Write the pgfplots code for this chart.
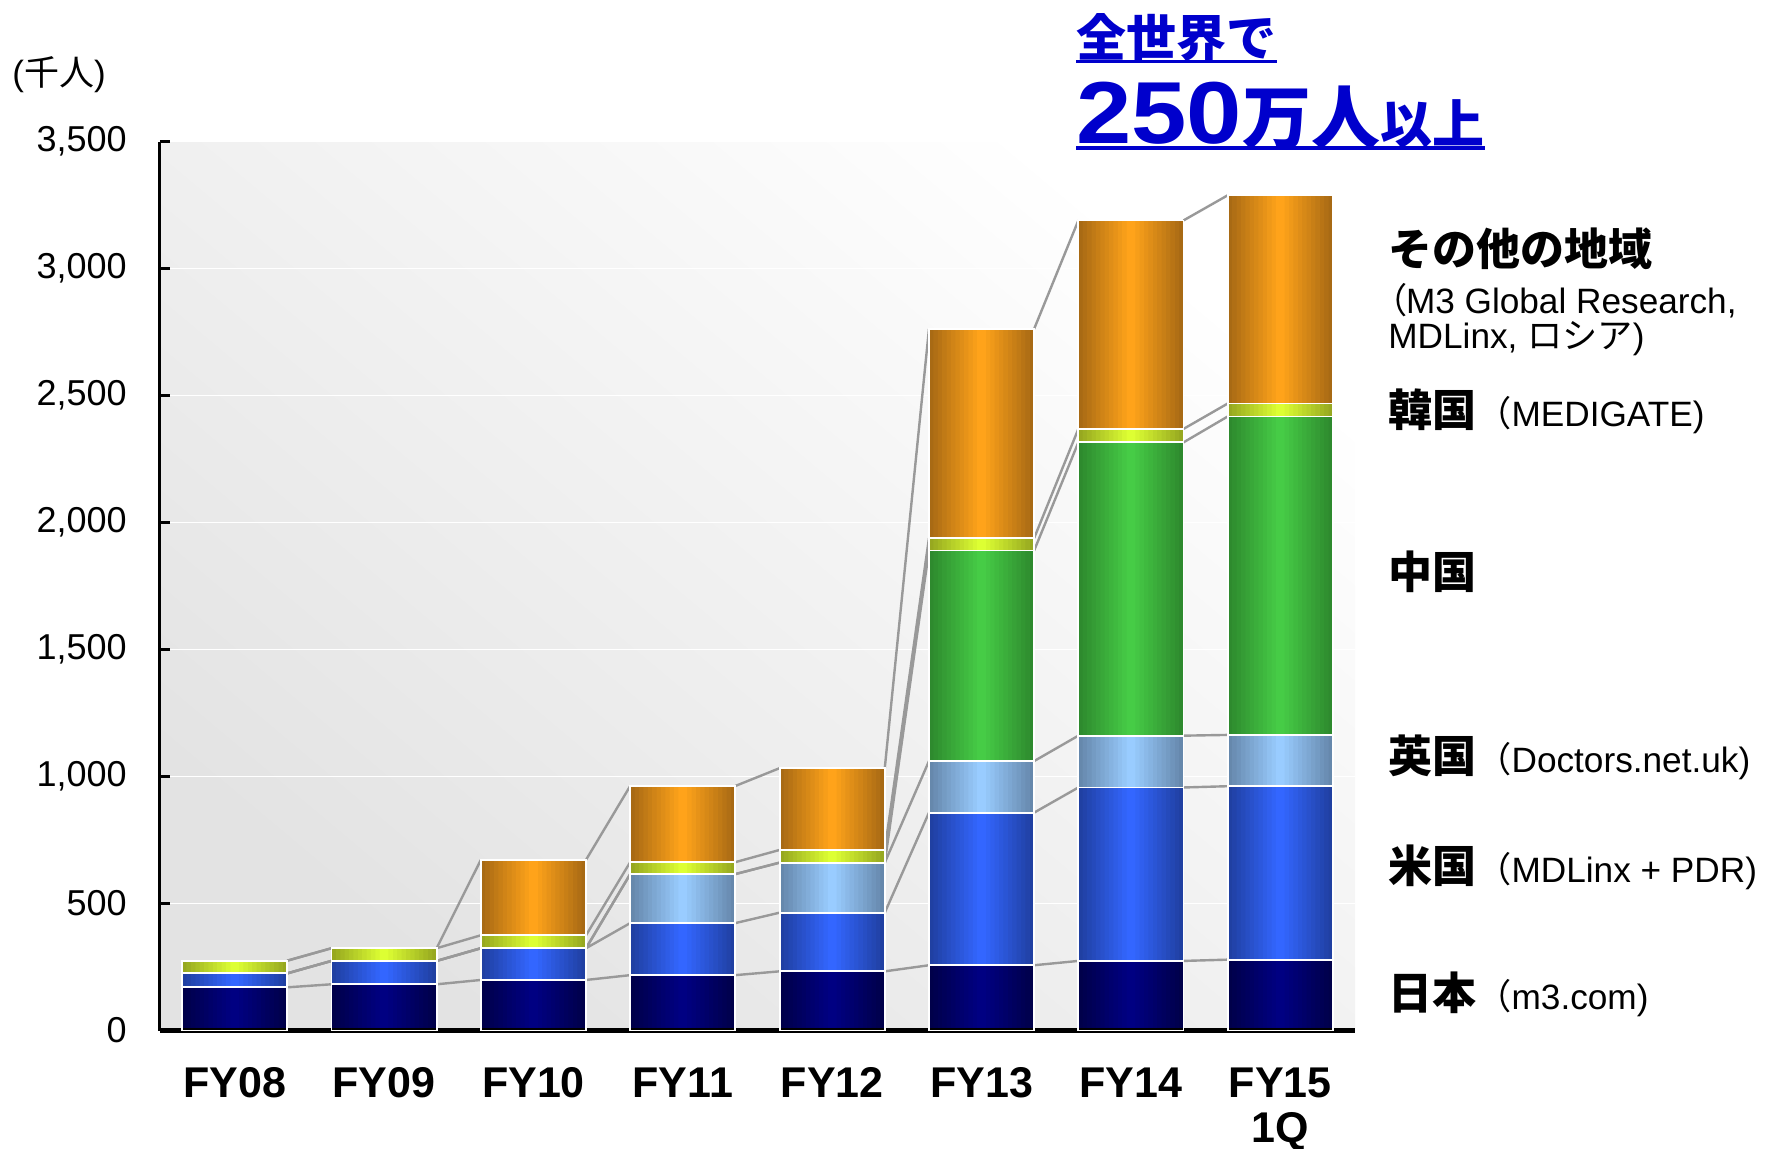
\documentclass[border=0pt]{standalone}
\usepackage{fontspec}
\setmainfont{Liberation Sans}
\newfontfamily\jp{Noto Sans CJK JP}
\newfontfamily\jpp{Noto Sans CJK JP}[RawFeature=+palt]
\usepackage{graphicx}
\usepackage{pgfplots}
\pgfplotsset{compat=1.18}
\usepackage{pgfplotstable}

\definecolor{titleblue}{HTML}{0000CC}
\definecolor{linegray}{HTML}{999999}
\definecolor{jpE}{HTML}{00004A}\definecolor{jpC}{HTML}{000082}
\definecolor{usE}{HTML}{2040A2}\definecolor{usC}{HTML}{3366FF}
\definecolor{ukE}{HTML}{6688AC}\definecolor{ukC}{HTML}{99CCFF}
\definecolor{cnE}{HTML}{2E8A2E}\definecolor{cnC}{HTML}{46CC46}
\definecolor{krE}{HTML}{97A820}\definecolor{krC}{HTML}{DDFF33}
\definecolor{otE}{HTML}{A86A14}\definecolor{otC}{HTML}{FFA31A}

% members (thousand): Japan, US, UK, China, Korea, other regions
\pgfplotstableread{
x jp us uk cn kr ot
0 170 55 0 0 50 0
1 182 92 0 0 50 0
2 199 125 0 0 51 297
3 218 205 193 0 47 300
4 233 231 197 0 50 322
5 257 601 203 829 49 824
6 274 683 204 1155 53 821
7 279 683 202 1254 51 820
}\members

\pgfplotsset{
  frame/.style={at={(80pt,58.75pt)}, anchor=south west,
    scale only axis, width=597.5pt, height=444.4pt,
    xmin=-0.5, xmax=7.5, ymin=0, ymax=3500},
  serline/.style={linegray, line width=1.2pt, no marks},
}

\newcommand{\lp}{{\jpp （}}
\newcommand{\flp}{{\jp （}}

\begin{document}
\begin{tikzpicture}
\useasboundingbox (0,0) rectangle (886.5pt,574pt);

% background, grid and series lines
\begin{axis}[
  frame,
  axis line style={draw=none},
  xtick=\empty, ytick={500,1000,...,3500}, yticklabels={},
  tick style={draw=none},
  ymajorgrids, major grid style={white, line width=0.8pt},
  axis background/.style={shade, bottom color=black!11, top color=white, shading angle=-40},
  unbounded coords=jump,
]
% Japan
\addplot[serline] coordinates {(0.352,170)(0.648,182)(1,nan)(1.352,182)(1.648,199)(2,nan)(2.352,199)(2.648,218)(3,nan)(3.352,218)(3.648,233)(4,nan)(4.352,233)(4.648,257)(5,nan)(5.352,257)(5.648,274)(6,nan)(6.352,274)(6.648,279)};
% US
\addplot[serline] coordinates {(0.352,225)(0.648,274)(1,nan)(1.352,274)(1.648,324)(2,nan)(2.352,324)(2.648,423)(3,nan)(3.352,423)(3.648,464)(4,nan)(4.352,464)(4.648,858)(5,nan)(5.352,858)(5.648,957)(6,nan)(6.352,957)(6.648,962)};
% UK
\addplot[serline] coordinates {(0.352,225)(0.648,274)(1,nan)(1.352,274)(1.648,324)(2,nan)(2.352,324)(2.648,616)(3,nan)(3.352,616)(3.648,661)(4,nan)(4.352,661)(4.648,1061)(5,nan)(5.352,1061)(5.648,1161)(6,nan)(6.352,1161)(6.648,1164)};
% China
\addplot[serline] coordinates {(0.352,225)(0.648,274)(1,nan)(1.352,274)(1.648,324)(2,nan)(2.352,324)(2.648,616)(3,nan)(3.352,616)(3.648,661)(4,nan)(4.352,661)(4.648,1890)(5,nan)(5.352,1890)(5.648,2316)(6,nan)(6.352,2316)(6.648,2418)};
% Korea
\addplot[serline] coordinates {(0.352,275)(0.648,324)(1,nan)(1.352,324)(1.648,375)(2,nan)(2.352,375)(2.648,663)(3,nan)(3.352,663)(3.648,711)(4,nan)(4.352,711)(4.648,1939)(5,nan)(5.352,1939)(5.648,2369)(6,nan)(6.352,2369)(6.648,2469)};
% other
\addplot[serline] coordinates {(0.352,275)(0.648,324)(1,nan)(1.352,324)(1.648,672)(2,nan)(2.352,672)(2.648,963)(3,nan)(3.352,963)(3.648,1033)(4,nan)(4.352,1033)(4.648,2763)(5,nan)(5.352,2763)(5.648,3190)(6,nan)(6.352,3190)(6.648,3289)};
\end{axis}

% stacked bars, drawn as narrowing layers for the horizontal gradient
\foreach \k in {0,...,11}{
  \pgfmathsetmacro{\bw}{0.704*(1-\k/12)}
  \pgfmathsetmacro{\pct}{100*\k/11}
  \begin{axis}[frame, hide axis, ybar stacked, bar width=\bw]
  \addplot[draw=none, fill=jpC!\pct!jpE] table[x=x,y=jp] {\members};
  \addplot[draw=none, fill=usC!\pct!usE] table[x=x,y=us] {\members};
  \addplot[draw=none, fill=ukC!\pct!ukE] table[x=x,y=uk] {\members};
  \addplot[draw=none, fill=cnC!\pct!cnE] table[x=x,y=cn] {\members};
  \addplot[draw=none, fill=krC!\pct!krE] table[x=x,y=kr] {\members};
  \addplot[draw=none, fill=otC!\pct!otE] table[x=x,y=ot] {\members};
  \end{axis}
}

% white outlines, axis lines and labels
\begin{axis}[
  frame,
  ybar stacked, bar width=0.704,
  axis x line*=bottom, axis y line*=left,
  x axis line style={line width=2.5pt,-},
  y axis line style={line width=1.5pt,-},
  tick align=inside,
  xtick={0,...,7},
  xticklabels={FY08,FY09,FY10,FY11,FY12,FY13,FY14,{FY15\\1Q}},
  xtick style={draw=none},
  xticklabel style={font=\fontsize{21.5}{22.4}\selectfont\bfseries, align=center,
    anchor=north, inner sep=0pt, yshift=-18.5pt},
  ytick={0,500,...,3500},
  ytick style={line width=1.5pt, black},
  major tick length=5pt,
  yticklabel style={font=\fontsize{18}{18}\selectfont, anchor=east, inner sep=0pt, xshift=-16.5pt},
  scaled y ticks=false,
  /pgf/number format/.cd, 1000 sep={,}, assume math mode=true,
]
\addplot[draw=white, fill=none, line width=0.9pt] table[x=x,y=jp] {\members};
\addplot[draw=white, fill=none, line width=0.9pt] table[x=x,y=us] {\members};
\addplot[draw=white, fill=none, line width=0.9pt] table[x=x,y=uk] {\members};
\addplot[draw=white, fill=none, line width=0.9pt] table[x=x,y=cn] {\members};
\addplot[draw=white, fill=none, line width=0.9pt] table[x=x,y=kr] {\members};
\addplot[draw=white, fill=none, line width=0.9pt] table[x=x,y=ot] {\members};
\end{axis}

% unit
\node[anchor=west, inner sep=0pt] at (6pt,536.5pt) {\fontsize{17.5}{17.5}\selectfont ({\jp 千人})};

% headline
\node[anchor=base west, inner sep=0pt, text=titleblue] (t1) at (538pt,545.75pt)
  {\jp\bfseries\fontsize{25}{25}\selectfont 全世界で};
\draw[titleblue, line width=1.6pt] ([yshift=-2.6pt]t1.base west) -- ([yshift=-2.6pt]t1.base east);
\node[anchor=base west, inner sep=0pt, text=titleblue] (t2) at (538pt,502pt)
  {\bfseries\fontsize{44}{44}\selectfont\scalebox{1.13}[1]{250}{\jp\fontsize{34.5}{34.5}\selectfont 万人}{\jp\fontsize{26}{26}\selectfont 以上}};
\draw[titleblue, line width=1.75pt] ([yshift=-2pt]t2.base west) -- ([yshift=-2pt]t2.base east);

% series labels
\begin{scope}[every node/.style={anchor=west, inner sep=0pt, font=\fontsize{17.6}{17.6}\selectfont}]
\node at (694pt,449.5pt) {\jp\bfseries\fontsize{22}{22}\selectfont その他の地域};
\node at (694pt,423.6pt) {\lp M3 Global Research,};
\node at (694pt,404.5pt) {MDLinx, {\jp ロシア})};
\node at (694pt,368.5pt) {{\jp\bfseries\fontsize{22}{22}\selectfont 韓国}\flp MEDIGATE)};
\node at (694pt,288pt) {\jp\bfseries\fontsize{22}{22}\selectfont 中国};
\node at (694pt,195.5pt) {{\jp\bfseries\fontsize{22}{22}\selectfont 英国}\flp Doctors.net.uk)};
\node at (694pt,140.5pt) {{\jp\bfseries\fontsize{22}{22}\selectfont 米国}\flp MDLinx + PDR)};
\node at (694pt,77pt) {{\jp\bfseries\fontsize{22}{22}\selectfont 日本}\flp m3.com)};
\end{scope}
\end{tikzpicture}
\end{document}
